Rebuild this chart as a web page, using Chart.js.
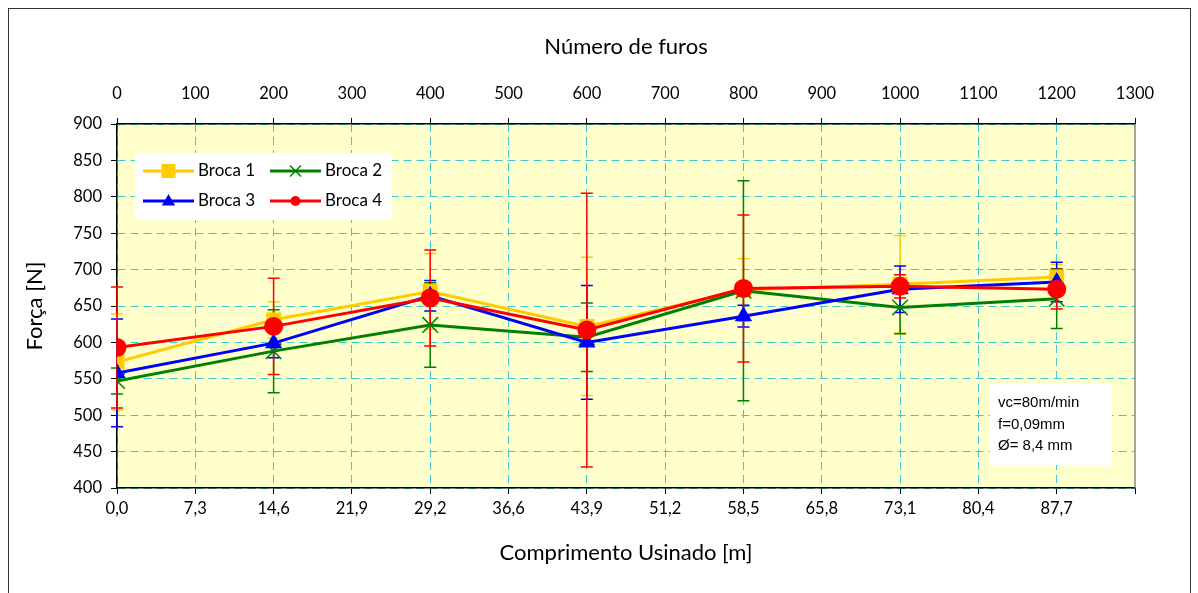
<!DOCTYPE html>
<html>
<head>
<meta charset="utf-8">
<script src="https://cdn.jsdelivr.net/npm/chart.js@4.4.1/dist/chart.umd.min.js"></script>
<style>
  html, body { margin: 0; padding: 0; background: #fff; }
  #frame { position: absolute; left: 8px; top: 8px; width: 1183px; height: 620px; border: 1.5px solid #333; box-sizing: border-box; }
  #wrap { position: absolute; left: 0; top: 0; width: 1198px; height: 593px; }
</style>
</head>
<body>
<div id="frame"></div>
<div id="wrap"><canvas id="chart"></canvas></div>
<script>
// Força de avanço x número de furos (brocas 1 a 4)

const furos = [0, 200, 400, 600, 800, 1000, 1200];
const comprimentoLabels = ['0,0', '7,3', '14,6', '21,9', '29,2', '36,6', '43,9', '51,2', '58,5', '65,8', '73,1', '80,4', '87,7', ''];

const broca1 = [573, 631, 670, 622, 672, 680, 690];
const broca1Err = [66, 25, 52, 95, 43, 67, 17];
const broca2 = [547, 588, 624, 607, 671, 648, 660];
const broca2Err = [18, 57, 58, 47, 151, 36, 41];
const broca3 = [558, 599, 664, 600, 636, 673, 683];
const broca3Err = [74, 20, 21, 78, 15, 32, 27];
const broca4 = [593, 622, 661, 617, 674, 677, 673];
const broca4Err = [83, 66, 66, 188, 101, 16, 27];

const notas = ['vc=80m/min', 'f=0,09mm', 'Ø= 8,4 mm'];

const GRID = '#38cccc';
Chart.defaults.font.family = 'Lato, "Noto Sans", sans-serif';
Chart.defaults.color = '#000';

function pts(ys) {
  return furos.map((f, i) => ({ x: f, y: ys[i] }));
}

// marker drawing for legend
function drawMarker(ctx, style, x, y, r, color) {
  ctx.save();
  ctx.fillStyle = color;
  ctx.strokeStyle = color;
  ctx.beginPath();
  if (style === 'rect') {
    ctx.rect(x - r, y - r, 2 * r, 2 * r);
    ctx.fill();
  } else if (style === 'circle') {
    ctx.arc(x, y, r, 0, Math.PI * 2);
    ctx.fill();
  } else if (style === 'triangle') {
    ctx.moveTo(x, y - r);
    ctx.lineTo(x + r * 0.95, y + r * 0.65);
    ctx.lineTo(x - r * 0.95, y + r * 0.65);
    ctx.closePath();
    ctx.fill();
  } else if (style === 'crossRot') {
    ctx.lineWidth = 1.5;
    ctx.moveTo(x - r, y - r); ctx.lineTo(x + r, y + r);
    ctx.moveTo(x - r, y + r); ctx.lineTo(x + r, y - r);
    ctx.stroke();
  }
  ctx.restore();
}

const series = [
  { label: 'Broca 1', data: broca1, err: broca1Err, color: '#ffcc00', style: 'rect', radius: 10.5, legR: 7, order: 4 },
  { label: 'Broca 2', data: broca2, err: broca2Err, color: '#008000', style: 'crossRot', radius: 11, legR: 5.5, order: 3 },
  { label: 'Broca 3', data: broca3, err: broca3Err, color: '#0000ff', style: 'triangle', radius: 10, legR: 7, order: 2 },
  { label: 'Broca 4', data: broca4, err: broca4Err, color: '#ff0000', style: 'circle', radius: 9.5, legR: 5, order: 1 }
];

const chartPlugin = {
  id: 'extras',
  beforeDraw(chart) {
    const { ctx, chartArea: a } = chart;
    ctx.save();
    ctx.fillStyle = '#ffffcc';
    ctx.fillRect(a.left, a.top, a.right - a.left, a.bottom - a.top);
    ctx.restore();
  },
  beforeDatasetsDraw(chart) {
    const { ctx, scales } = chart;
    ctx.save();
    ctx.lineWidth = 1.5;
    series.forEach(s => {
      ctx.strokeStyle = s.color;
      furos.forEach((f, i) => {
        const x = scales.x.getPixelForValue(f);
        const yt = scales.y.getPixelForValue(s.data[i] + s.err[i]);
        const yb = scales.y.getPixelForValue(s.data[i] - s.err[i]);
        ctx.beginPath();
        ctx.moveTo(x, yt); ctx.lineTo(x, yb);
        ctx.moveTo(x - 6, yt); ctx.lineTo(x + 6, yt);
        ctx.moveTo(x - 6, yb); ctx.lineTo(x + 6, yb);
        ctx.stroke();
      });
    });
    ctx.restore();
  },
  afterDraw(chart) {
    const { ctx, chartArea: a } = chart;
    ctx.save();
    // right edge of plot
    ctx.strokeStyle = '#888';
    ctx.lineWidth = 1.5;
    ctx.beginPath();
    ctx.moveTo(a.right, a.top); ctx.lineTo(a.right, a.bottom);
    ctx.stroke();

    // legend box
    ctx.fillStyle = '#fff';
    ctx.fillRect(a.left + 18, a.top + 29, 257, 67);
    ctx.font = '17px Lato, "Noto Sans", sans-serif';
    ctx.textBaseline = 'middle';
    series.forEach((s, i) => {
      const col = i % 2, row = Math.floor(i / 2);
      const x0 = a.left + (col === 0 ? 26 : 153);
      const y0 = a.top + (row === 0 ? 47 : 77);
      ctx.strokeStyle = s.color;
      ctx.lineWidth = 3;
      ctx.beginPath();
      ctx.moveTo(x0, y0); ctx.lineTo(x0 + 51, y0);
      ctx.stroke();
      drawMarker(ctx, s.style, x0 + 25.5, y0, s.legR, s.color);
      ctx.fillStyle = '#000';
      ctx.fillText(s.label, x0 + 55, y0);
    });

    // notes box
    const bx = a.right - 145, by = a.bottom - 105;
    ctx.fillStyle = '#fff';
    ctx.fillRect(bx, by, 122, 82);
    ctx.fillStyle = '#000';
    ctx.font = '15px "Liberation Sans", Arial, sans-serif';
    notas.forEach((t, i) => ctx.fillText(t, bx + 8, by + 20 + i * 21.5));
    ctx.restore();
  }
};

new Chart(document.getElementById('chart'), {
  type: 'line',
  data: {
    datasets: series.map(s => ({
      label: s.label,
      data: pts(s.data),
      borderColor: s.color,
      backgroundColor: s.color,
      pointBackgroundColor: s.color,
      pointBorderColor: s.color,
      pointBorderWidth: s.style === 'crossRot' ? 1.5 : 0,
      pointStyle: s.style,
      pointRadius: s.radius,
      borderWidth: 3,
      tension: 0,
      order: s.order
    }))
  },
  options: {
    responsive: true,
    maintainAspectRatio: false,
    animation: false,
    layout: { padding: { left: 22, right: 63, top: 34, bottom: 27 } },
    plugins: {
      legend: { display: false },
      tooltip: { enabled: false }
    },
    scales: {
      x: {
        type: 'linear',
        position: 'bottom',
        min: 0, max: 1300,
        ticks: {
          stepSize: 100, autoSkip: false, maxRotation: 0, padding: 5,
          font: { size: 16.5 },
          callback: v => comprimentoLabels[Math.round(v / 100)]
        },
        grid: {
          color: c => (c.tick && c.tick.value === 1300) ? 'rgba(0,0,0,0)' : GRID,
          tickColor: '#000', tickLength: 6, tickBorderDash: []
        },
        border: { color: '#000', width: 1.5, dash: [8, 5] },
        title: { display: true, text: 'Comprimento Usinado [m]', font: { size: 22 }, padding: 0 },
        afterFit: s => { s.height = 78; }
      },
      x2: {
        type: 'linear',
        position: 'top',
        min: 0, max: 1300,
        ticks: { stepSize: 100, autoSkip: false, maxRotation: 0, padding: 14, font: { size: 16.5 }, callback: v => String(v) },
        grid: { drawOnChartArea: false, color: '#000', tickLength: 6 },
        border: { color: '#000', width: 1.5 },
        title: { display: true, text: 'Número de furos', font: { size: 22 }, padding: 0 },
        afterFit: s => { s.height = 90; }
      },
      y: {
        min: 400, max: 900,
        ticks: { stepSize: 50, padding: 9, font: { size: 16.5 } },
        grid: { color: GRID, tickColor: '#000', tickLength: 6, tickBorderDash: [] },
        border: { color: '#000', width: 1.5, dash: [8, 5] },
        title: { display: true, text: 'Força [N]', font: { size: 22 }, padding: 0 },
        afterFit: s => { s.width = 95; }
      }
    }
  },
  plugins: [chartPlugin]
});
</script>
</body>
</html>
